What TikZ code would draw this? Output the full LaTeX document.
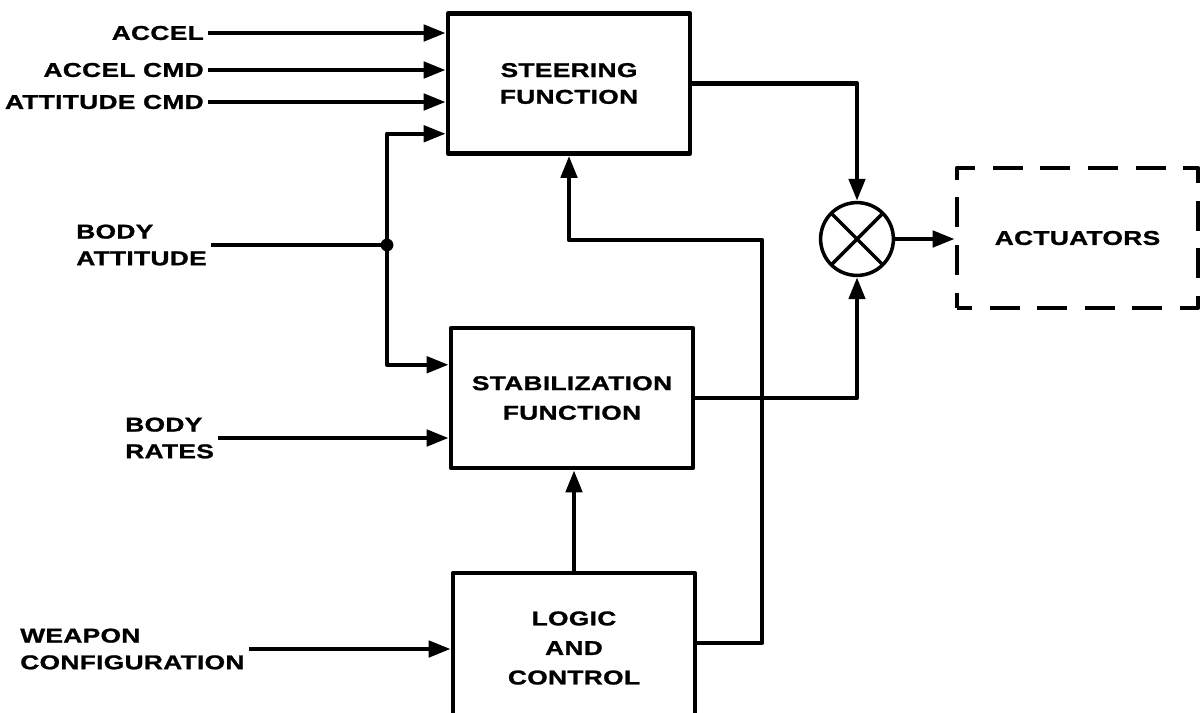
\documentclass[tikz,border=0pt]{standalone}
\usepackage{fontspec}
\setmainfont{Liberation Sans Bold}[FakeStretch=1.32, LetterSpace=1.5, FakeBold=1.2]
\usepackage{tikz}
\usetikzlibrary{positioning, arrows.meta, shapes}
\newcommand{\diagfont}{\fontsize{14.2}{19}\selectfont}

\begin{document}
\begin{tikzpicture}[
    x=0.025cm, y=-0.025cm,
    block/.style={rectangle, draw, line width=3.2pt, line join=round, minimum width=6.05cm, minimum height=3.5cm, align=center, font=\diagfont},
    lbl/.style={inner sep=0.1cm, align=left, font=\diagfont},
    wire/.style={line width=3.2pt, line join=round},
    arrow/.style={wire, -{Triangle[length=0.55cm, width=0.4cm]}}
]
    \clip (0,0) rectangle (1203,712);

    % function blocks
    \node[block] (steer) at (569,83.5) {STEERING\\FUNCTION};
    \node[block] (stab) at (572,398) {STABILIZATION\\[2pt]FUNCTION};
    \node[block, minimum height=3.75cm] (logic) at (574,648) {LOGIC\\[2pt]AND\\[2pt]CONTROL};

    \node[circle, draw, line width=2.5pt, minimum size=1.82cm,
        path picture={\draw[line width=2.5pt]
            (path picture bounding box.north west) -- (path picture bounding box.south east)
            (path picture bounding box.north east) -- (path picture bounding box.south west);}] (sum) at (857,239) {};

    \node[block, minimum width=6.025cm, dash pattern=on 0.75cm off 0.44cm, dash phase=0.375cm] (act) at (1077.5,238) {ACTUATORS};

    % input labels
    \node[lbl, anchor=east] (accel) at (208,33) {ACCEL};
    \node[lbl, anchor=east] (acmd) at (208,70) {ACCEL CMD};
    \node[lbl, anchor=east] (attcmd) at (208,102) {ATTITUDE CMD};
    \node[lbl, anchor=west] (batt) at (72,245) {BODY\\ATTITUDE};
    \node[lbl, anchor=west] (brate) at (121,438) {BODY\\RATES};
    \node[lbl, anchor=west] (weapon) at (16,649) {WEAPON\\CONFIGURATION};

    \coordinate (jn) at (387,245);
    \coordinate (loop) at (762,240);

    % connectors
    \draw[arrow] (accel) -- (accel -| steer.west);
    \draw[arrow] (acmd) -- (acmd -| steer.west);
    \draw[arrow] (attcmd) -- (attcmd -| steer.west);
    \draw[wire] (batt) -- (jn);
    \fill (jn) circle (0.16cm);
    \draw[arrow] (jn) |- ([yshift=0.55cm]steer.south west);
    \draw[arrow] (jn) |- ([yshift=-0.975cm]stab.north west);
    \draw[arrow] (brate) -- (brate -| stab.west);
    \draw[arrow] (weapon) -- (weapon -| logic.west);

    \draw[arrow] (logic.north) -- (logic.north |- stab.south);
    \draw[arrow] ([yshift=0.125cm]logic.east) -| (loop) -| (steer.south);
    \draw[arrow] (steer.east) -| (sum.north);
    \draw[arrow] (stab.east) -| (sum.south);
    \draw[arrow] (sum.east) -- (sum.east -| act.west);
\end{tikzpicture}
\end{document}
